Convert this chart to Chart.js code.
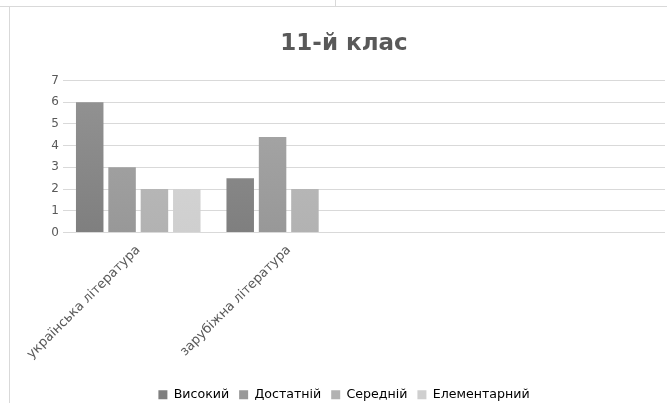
<!DOCTYPE html>
<html>
<head>
<meta charset="utf-8">
<script src="https://cdn.jsdelivr.net/npm/chart.js@4"></script>
<style>
  html, body { margin: 0; padding: 0; background: #fff; overflow: hidden; width: 667px; height: 403px; }
  #topline { position: absolute; left: 0; top: 6px; width: 667px; height: 0; border-top: 1px solid #d9d9d9; }
  #topsep { position: absolute; left: 335px; top: 0; width: 0; height: 6px; border-left: 1px solid #d9d9d9; }
  #leftline { position: absolute; left: 9px; top: 7px; width: 0; height: 396px; border-left: 1px solid #d9d9d9; }
  #wrap { position: absolute; left: 10px; top: 7px; width: 672px; height: 404px; }
</style>
</head>
<body>
<div id="topline"></div>
<div id="topsep"></div>
<div id="leftline"></div>
<div id="wrap"><canvas id="grafico"></canvas></div>
<script>
// Предмети (дві останні категорії порожні)
const categories = ["українська література", "зарубіжна література", "", ""];
const seriesNames = ["Високий", "Достатній", "Середній", "Елементарний"];
const vysokyi = [6, 2.5, null, null];
const dostatnii = [3, 4.4, null, null];
const serednii = [2, 2, null, null];
const elementarnyi = [2, null, null, null];
const yTicks = [0, 1, 2, 3, 4, 5, 6, 7];

// кольори: [верх, низ] градієнта
const shades = [
    ['#949494', '#7f7f7f'],
    ['#a9a9a9', '#989898'],
    ['#bfbfbf', '#b2b2b2'],
    ['#d8d8d8', '#cfcfcf']
];

function grad(i) {
    return (c) => {
        const area = c.chart.chartArea;
        if (!area) return shades[i][1];
        const g = c.chart.ctx.createLinearGradient(0, area.bottom, 0, area.top);
        g.addColorStop(0, shades[i][1]);
        g.addColorStop(1, shades[i][0]);
        return g;
    };
}

const values = [vysokyi, dostatnii, serednii, elementarnyi];

const ctx = document.getElementById('grafico').getContext('2d');
const chart = new Chart(ctx, {
    type: 'bar',
    data: {
        labels: categories,
        datasets: seriesNames.map((name, i) => ({
            label: name,
            data: values[i],
            backgroundColor: grad(i),
            borderWidth: 0,
            categoryPercentage: 0.86,
            barPercentage: 0.85
        }))
    },
    options: {
        responsive: true,
        maintainAspectRatio: false,
        animation: false,
        layout: { padding: { left: 13, right: 17, top: 0, bottom: 0 } },
        plugins: {
            title: {
                display: true,
                text: '11-й клас',
                color: '#595959',
                font: { family: 'DejaVu Sans', size: 23, weight: 'bold' },
                padding: { top: 23, bottom: 23 }
            },
            legend: {
                position: 'bottom',
                labels: {
                    color: '#595959',
                    font: { family: 'DejaVu Sans', size: 12.6 },
                    boxWidth: 9,
                    boxHeight: 9,
                    padding: 10,
                    generateLabels: (ch) => seriesNames.map((name, i) => ({
                        text: name,
                        fillStyle: shades[i][1],
                        strokeStyle: shades[i][1],
                        lineWidth: 0,
                        datasetIndex: i
                    }))
                }
            },
            tooltip: { enabled: false }
        },
        scales: {
            x: {
                grid: { display: false },
                border: { display: false },
                afterFit: (axis) => { axis.height = 146; },
                ticks: {
                    color: '#595959',
                    font: { family: 'DejaVu Sans', size: 13 },
                    maxRotation: 45,
                    minRotation: 45,
                    autoSkip: false,
                    padding: 2
                }
            },
            y: {
                min: 0,
                max: 7,
                afterBuildTicks: (axis) => { axis.ticks = yTicks.map(v => ({ value: v })); },
                afterFit: (axis) => { axis.width = 40; },
                grid: { color: '#d9d9d9', lineWidth: 1, drawTicks: false },
                border: { display: false },
                ticks: {
                    color: '#595959',
                    font: { family: 'DejaVu Sans', size: 12 },
                    padding: 4
                }
            }
        }
    }
});
</script>
</body>
</html>
